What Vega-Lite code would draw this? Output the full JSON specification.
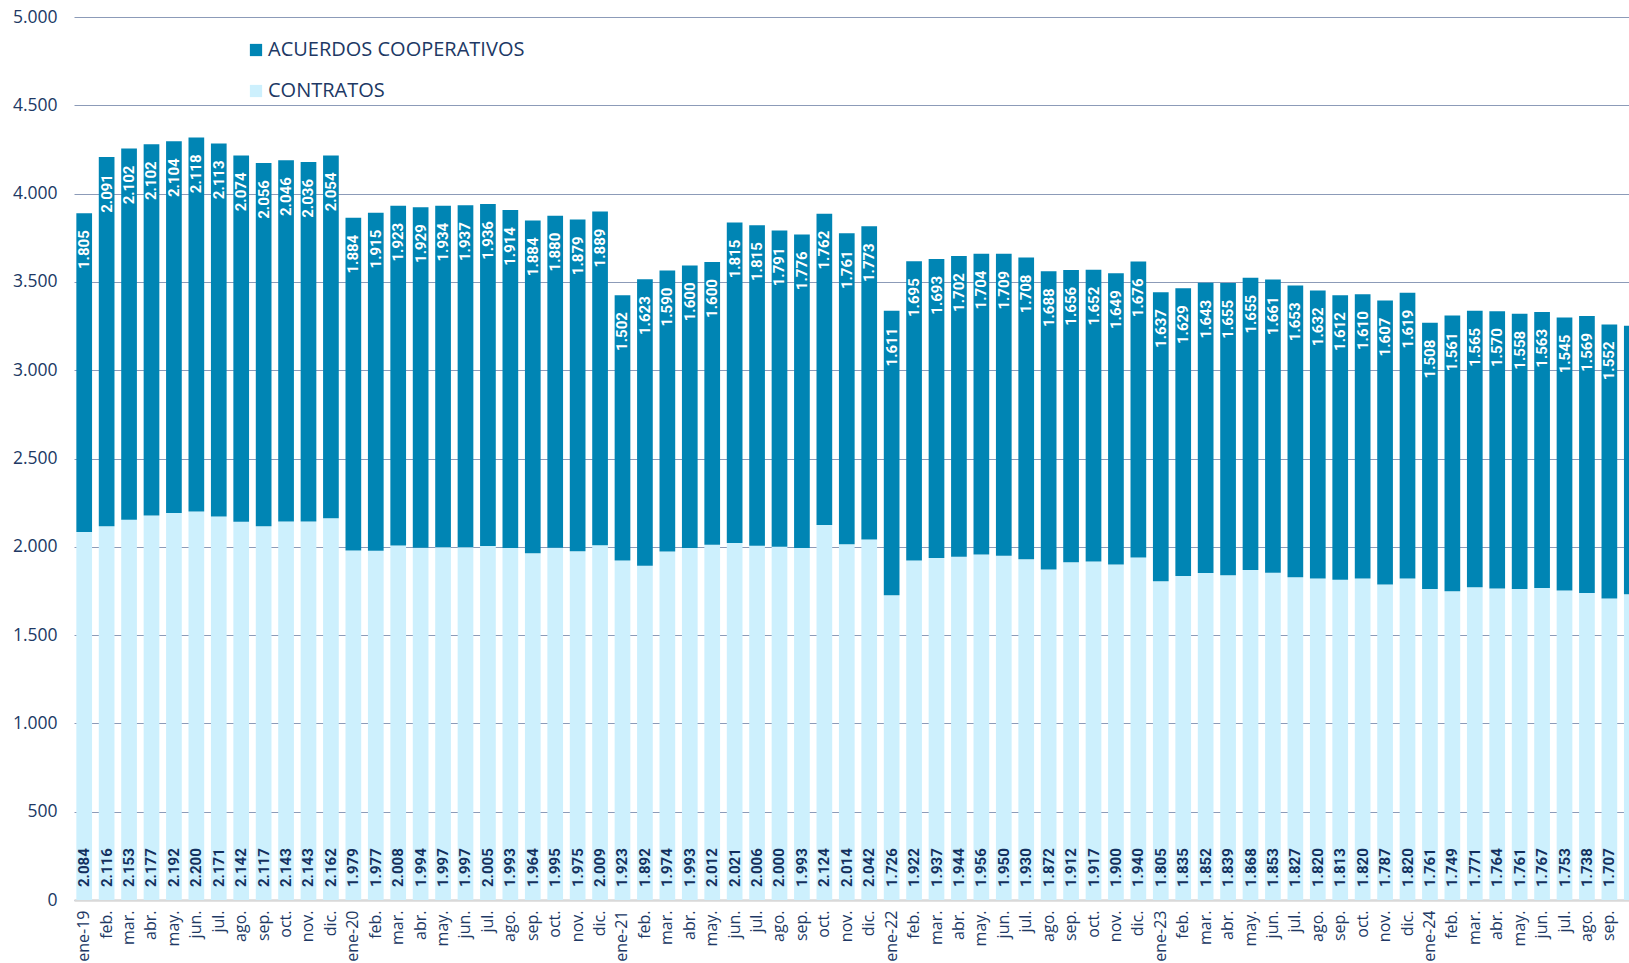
{
  "$schema": "https://vega.github.io/schema/vega-lite/v6.json",
  "width": 1555,
  "height": 883,
  "autosize": {"type": "none"},
  "padding": {"left": 74, "top": 17, "right": 0, "bottom": 63},
  "config": {
    "locale": {"number": {"decimal": ",", "thousands": ".", "grouping": [3], "currency": ["", " €"]}},
    "view": {"stroke": null},
    "font": "Open Sans"
  },
  "data": {"values": [
    {"mes": "ene-19", "CONTRATOS": 2084, "ACUERDOS COOPERATIVOS": 1805},
    {"mes": "feb.-19", "CONTRATOS": 2116, "ACUERDOS COOPERATIVOS": 2091},
    {"mes": "mar.-19", "CONTRATOS": 2153, "ACUERDOS COOPERATIVOS": 2102},
    {"mes": "abr.-19", "CONTRATOS": 2177, "ACUERDOS COOPERATIVOS": 2102},
    {"mes": "may.-19", "CONTRATOS": 2192, "ACUERDOS COOPERATIVOS": 2104},
    {"mes": "jun.-19", "CONTRATOS": 2200, "ACUERDOS COOPERATIVOS": 2118},
    {"mes": "jul.-19", "CONTRATOS": 2171, "ACUERDOS COOPERATIVOS": 2113},
    {"mes": "ago.-19", "CONTRATOS": 2142, "ACUERDOS COOPERATIVOS": 2074},
    {"mes": "sep.-19", "CONTRATOS": 2117, "ACUERDOS COOPERATIVOS": 2056},
    {"mes": "oct.-19", "CONTRATOS": 2143, "ACUERDOS COOPERATIVOS": 2046},
    {"mes": "nov.-19", "CONTRATOS": 2143, "ACUERDOS COOPERATIVOS": 2036},
    {"mes": "dic.-19", "CONTRATOS": 2162, "ACUERDOS COOPERATIVOS": 2054},
    {"mes": "ene-20", "CONTRATOS": 1979, "ACUERDOS COOPERATIVOS": 1884},
    {"mes": "feb.-20", "CONTRATOS": 1977, "ACUERDOS COOPERATIVOS": 1915},
    {"mes": "mar.-20", "CONTRATOS": 2008, "ACUERDOS COOPERATIVOS": 1923},
    {"mes": "abr.-20", "CONTRATOS": 1994, "ACUERDOS COOPERATIVOS": 1929},
    {"mes": "may.-20", "CONTRATOS": 1997, "ACUERDOS COOPERATIVOS": 1934},
    {"mes": "jun.-20", "CONTRATOS": 1997, "ACUERDOS COOPERATIVOS": 1937},
    {"mes": "jul.-20", "CONTRATOS": 2005, "ACUERDOS COOPERATIVOS": 1936},
    {"mes": "ago.-20", "CONTRATOS": 1993, "ACUERDOS COOPERATIVOS": 1914},
    {"mes": "sep.-20", "CONTRATOS": 1964, "ACUERDOS COOPERATIVOS": 1884},
    {"mes": "oct.-20", "CONTRATOS": 1995, "ACUERDOS COOPERATIVOS": 1880},
    {"mes": "nov.-20", "CONTRATOS": 1975, "ACUERDOS COOPERATIVOS": 1879},
    {"mes": "dic.-20", "CONTRATOS": 2009, "ACUERDOS COOPERATIVOS": 1889},
    {"mes": "ene-21", "CONTRATOS": 1923, "ACUERDOS COOPERATIVOS": 1502},
    {"mes": "feb.-21", "CONTRATOS": 1892, "ACUERDOS COOPERATIVOS": 1623},
    {"mes": "mar.-21", "CONTRATOS": 1974, "ACUERDOS COOPERATIVOS": 1590},
    {"mes": "abr.-21", "CONTRATOS": 1993, "ACUERDOS COOPERATIVOS": 1600},
    {"mes": "may.-21", "CONTRATOS": 2012, "ACUERDOS COOPERATIVOS": 1600},
    {"mes": "jun.-21", "CONTRATOS": 2021, "ACUERDOS COOPERATIVOS": 1815},
    {"mes": "jul.-21", "CONTRATOS": 2006, "ACUERDOS COOPERATIVOS": 1815},
    {"mes": "ago.-21", "CONTRATOS": 2000, "ACUERDOS COOPERATIVOS": 1791},
    {"mes": "sep.-21", "CONTRATOS": 1993, "ACUERDOS COOPERATIVOS": 1776},
    {"mes": "oct.-21", "CONTRATOS": 2124, "ACUERDOS COOPERATIVOS": 1762},
    {"mes": "nov.-21", "CONTRATOS": 2014, "ACUERDOS COOPERATIVOS": 1761},
    {"mes": "dic.-21", "CONTRATOS": 2042, "ACUERDOS COOPERATIVOS": 1773},
    {"mes": "ene-22", "CONTRATOS": 1726, "ACUERDOS COOPERATIVOS": 1611},
    {"mes": "feb.-22", "CONTRATOS": 1922, "ACUERDOS COOPERATIVOS": 1695},
    {"mes": "mar.-22", "CONTRATOS": 1937, "ACUERDOS COOPERATIVOS": 1693},
    {"mes": "abr.-22", "CONTRATOS": 1944, "ACUERDOS COOPERATIVOS": 1702},
    {"mes": "may.-22", "CONTRATOS": 1956, "ACUERDOS COOPERATIVOS": 1704},
    {"mes": "jun.-22", "CONTRATOS": 1950, "ACUERDOS COOPERATIVOS": 1709},
    {"mes": "jul.-22", "CONTRATOS": 1930, "ACUERDOS COOPERATIVOS": 1708},
    {"mes": "ago.-22", "CONTRATOS": 1872, "ACUERDOS COOPERATIVOS": 1688},
    {"mes": "sep.-22", "CONTRATOS": 1912, "ACUERDOS COOPERATIVOS": 1656},
    {"mes": "oct.-22", "CONTRATOS": 1917, "ACUERDOS COOPERATIVOS": 1652},
    {"mes": "nov.-22", "CONTRATOS": 1900, "ACUERDOS COOPERATIVOS": 1649},
    {"mes": "dic.-22", "CONTRATOS": 1940, "ACUERDOS COOPERATIVOS": 1676},
    {"mes": "ene-23", "CONTRATOS": 1805, "ACUERDOS COOPERATIVOS": 1637},
    {"mes": "feb.-23", "CONTRATOS": 1835, "ACUERDOS COOPERATIVOS": 1629},
    {"mes": "mar.-23", "CONTRATOS": 1852, "ACUERDOS COOPERATIVOS": 1643},
    {"mes": "abr.-23", "CONTRATOS": 1839, "ACUERDOS COOPERATIVOS": 1655},
    {"mes": "may.-23", "CONTRATOS": 1868, "ACUERDOS COOPERATIVOS": 1655},
    {"mes": "jun.-23", "CONTRATOS": 1853, "ACUERDOS COOPERATIVOS": 1661},
    {"mes": "jul.-23", "CONTRATOS": 1827, "ACUERDOS COOPERATIVOS": 1653},
    {"mes": "ago.-23", "CONTRATOS": 1820, "ACUERDOS COOPERATIVOS": 1632},
    {"mes": "sep.-23", "CONTRATOS": 1813, "ACUERDOS COOPERATIVOS": 1612},
    {"mes": "oct.-23", "CONTRATOS": 1820, "ACUERDOS COOPERATIVOS": 1610},
    {"mes": "nov.-23", "CONTRATOS": 1787, "ACUERDOS COOPERATIVOS": 1607},
    {"mes": "dic.-23", "CONTRATOS": 1820, "ACUERDOS COOPERATIVOS": 1619},
    {"mes": "ene-24", "CONTRATOS": 1761, "ACUERDOS COOPERATIVOS": 1508},
    {"mes": "feb.-24", "CONTRATOS": 1749, "ACUERDOS COOPERATIVOS": 1561},
    {"mes": "mar.-24", "CONTRATOS": 1771, "ACUERDOS COOPERATIVOS": 1565},
    {"mes": "abr.-24", "CONTRATOS": 1764, "ACUERDOS COOPERATIVOS": 1570},
    {"mes": "may.-24", "CONTRATOS": 1761, "ACUERDOS COOPERATIVOS": 1558},
    {"mes": "jun.-24", "CONTRATOS": 1767, "ACUERDOS COOPERATIVOS": 1563},
    {"mes": "jul.-24", "CONTRATOS": 1753, "ACUERDOS COOPERATIVOS": 1545},
    {"mes": "ago.-24", "CONTRATOS": 1738, "ACUERDOS COOPERATIVOS": 1569},
    {"mes": "sep.-24", "CONTRATOS": 1707, "ACUERDOS COOPERATIVOS": 1552},
    {"mes": "oct.-24", "CONTRATOS": 1732, "ACUERDOS COOPERATIVOS": 1519}
  ]},
  "transform": [
    {"fold": ["CONTRATOS", "ACUERDOS COOPERATIVOS"], "as": ["serie", "valor"]},
    {"stack": "valor", "groupby": ["mes"], "sort": [{"field": "serie", "order": "descending"}], "as": ["v0", "v1"]}
  ],
  "encoding": {
    "x": {
      "field": "mes", "type": "nominal", "sort": null,
      "scale": {"range": [0, 1568], "paddingInner": 0.3, "paddingOuter": 0.105},
      "axis": {
        "title": null, "labelAngle": 270, "ticks": false,
        "domainColor": "#D9D9D9", "domainWidth": 2.5,
        "labelPadding": 10, "labelFontSize": 16, "labelColor": "#203864",
        "labelFont": "Open Sans", "labelOverlap": false,
        "labelExpr": "datum.value == 'oct.-24' ? '' : (slice(datum.value, 0, 3) == 'ene' ? datum.value : split(datum.value, '-')[0])"
      }
    }
  },
  "layer": [
    {
      "mark": {"type": "bar"},
      "encoding": {
        "y": {
          "field": "v1", "type": "quantitative",
          "scale": {"domain": [0, 5000], "nice": false},
          "axis": {
            "title": null, "values": [0, 500, 1000, 1500, 2000, 2500, 3000, 3500, 4000, 4500, 5000],
            "format": ",.0f", "domain": false, "ticks": false,
            "gridColor": "#8C9BB8", "gridWidth": 1,
            "labelPadding": 17, "labelFontSize": 17.5, "labelColor": "#203864", "labelFont": "Open Sans"
          }
        },
        "y2": {"field": "v0"},
        "color": {
          "field": "serie", "type": "nominal",
          "scale": {"domain": ["ACUERDOS COOPERATIVOS", "CONTRATOS"], "range": ["#0085B4", "#CDF0FD"]},
          "legend": {
            "orient": "none", "legendX": 172, "legendY": 23, "title": null,
            "symbolType": "square", "symbolSize": 150, "symbolStrokeWidth": 0,
            "labelFontSize": 20, "labelColor": "#203864", "labelFont": "Open Sans", "labelLimit": 0,
            "rowPadding": 21, "labelOffset": 2, "padding": 0
          }
        }
      }
    },
    {
      "transform": [{"filter": "datum.serie == 'ACUERDOS COOPERATIVOS' && datum.mes != 'oct.-24'"}],
      "mark": {"type": "text", "angle": 270, "align": "right", "baseline": "middle", "dx": -17, "font": "Roboto", "fontWeight": "bold", "fontSize": 15, "color": "#FFFFFF"},
      "encoding": {
        "y": {"field": "v1", "type": "quantitative"},
        "text": {"field": "valor", "type": "quantitative", "format": ",.0f"}
      }
    },
    {
      "transform": [{"filter": "datum.serie == 'CONTRATOS' && datum.mes != 'oct.-24'"}],
      "mark": {"type": "text", "angle": 270, "align": "left", "baseline": "middle", "dx": 13, "font": "Roboto", "fontWeight": "bold", "fontSize": 15, "color": "#13305E"},
      "encoding": {
        "y": {"field": "v0", "type": "quantitative"},
        "text": {"field": "valor", "type": "quantitative", "format": ",.0f"}
      }
    }
  ]
}
